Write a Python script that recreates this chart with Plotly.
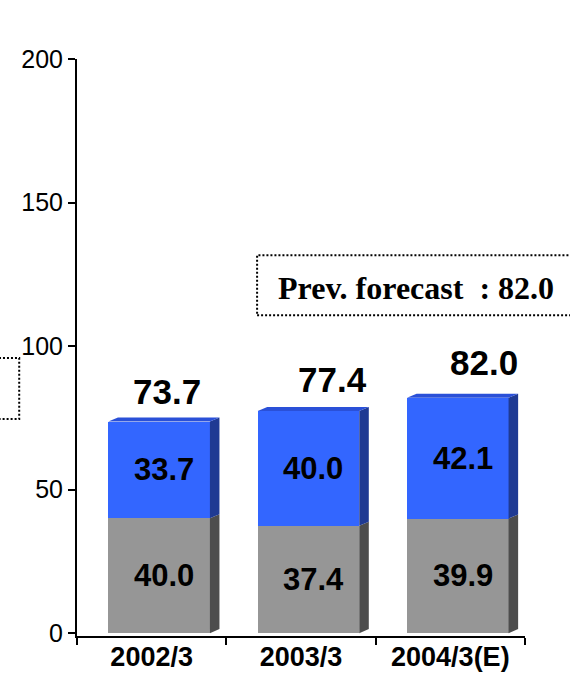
import plotly.graph_objects as go

# ---- data -------------------------------------------------------------
periods = ["2002/3", "2003/3", "2004/3(E)"]
lower_vals = [40.0, 37.4, 39.9]      # grey segment
upper_vals = [33.7, 40.0, 42.1]      # blue segment
totals = [73.7, 77.4, 82.0]
prev_forecast = 82.0
y_ticks = [0, 50, 100, 150, 200]

# ---- styling ----------------------------------------------------------
SANS = "Liberation Sans, Arial, sans-serif"
SERIF = "Liberation Serif, Times New Roman, serif"
BAR_OFFSET = -0.29      # left edge of front face relative to category centre
BAR_WIDTH = 0.68
DEPTH_X = 0.064         # 3-D depth of the boxes (x units)
DEPTH_Y = 1.4           # 3-D depth of the boxes (y units)
segments = [
    dict(vals=lower_vals, front="#969696", side="#4D4D4D", top="#7A7A7A"),
    dict(vals=upper_vals, front="#3366FF", side="#1F3A93", top="#2A50D8"),
]
# pixel nudges of the total labels above each box
TOTAL_SHIFT = [(8, 30), (24, 31), (26, 35)]

fig = go.Figure()

# front faces as stacked bars
for seg in segments:
    fig.add_trace(go.Bar(
        x=list(range(len(periods))), y=seg["vals"],
        width=BAR_WIDTH, offset=BAR_OFFSET,
        marker=dict(color=seg["front"], line=dict(width=0)),
        hoverinfo="skip", showlegend=False,
    ))

# side and top faces of each box
bases = [0.0] * len(periods)
for k, seg in enumerate(segments):
    is_top = k == len(segments) - 1
    for i, v in enumerate(seg["vals"]):
        b = bases[i]
        t = b + v
        xl = i + BAR_OFFSET
        xr = xl + BAR_WIDTH
        fig.add_trace(go.Scatter(
            x=[xr, xr + DEPTH_X, xr + DEPTH_X, xr, xr],
            y=[b, b + DEPTH_Y, t + DEPTH_Y, t, b],
            mode="lines", fill="toself", fillcolor=seg["side"],
            line=dict(width=0, color=seg["side"]),
            hoverinfo="skip", showlegend=False,
        ))
        if is_top:
            fig.add_trace(go.Scatter(
                x=[xl, xr, xr + DEPTH_X, xl + DEPTH_X, xl],
                y=[t, t, t + DEPTH_Y, t + DEPTH_Y, t],
                mode="lines", fill="toself", fillcolor=seg["top"],
                line=dict(width=0, color=seg["top"]),
                hoverinfo="skip", showlegend=False,
            ))
        # value label in the middle of the segment
        fig.add_annotation(
            x=xl + BAR_WIDTH / 2 + DEPTH_X / 2, y=b + v / 2,
            text=f"<b>{v:.1f}</b>", showarrow=False,
            xanchor="center", yanchor="middle",
            font=dict(family=SANS, size=31, color="black"),
        )
        bases[i] = t

# totals above each box
for i, tot in enumerate(totals):
    dxp, dyp = TOTAL_SHIFT[i]
    fig.add_annotation(
        x=i + BAR_OFFSET + BAR_WIDTH / 2, y=bases[i],
        text=f"<b>{tot:.1f}</b>", showarrow=False,
        xanchor="center", yanchor="middle",
        xshift=dxp, yshift=dyp,
        font=dict(family=SANS, size=35, color="black"),
    )

# previous-forecast callout (dotted frame)
fig.add_shape(type="rect", xref="paper", yref="paper",
              x0=0.402, x1=1.12, y0=0.556, y1=0.660,
              line=dict(color="black", width=2, dash="2px,2px"))
fig.add_annotation(xref="paper", yref="paper", x=0.757, y=0.603,
                   xanchor="center", yanchor="middle",
                   text=f"<b>Prev. forecast\u00a0 : {prev_forecast:.1f}</b>",
                   showarrow=False,
                   font=dict(family=SERIF, size=32, color="black"))
# partially visible dotted frame on the left edge
fig.add_shape(type="rect", xref="paper", yref="paper",
              x0=-0.30, x1=-0.129, y0=0.376, y1=0.482,
              line=dict(color="black", width=2, dash="2px,2px"))

fig.update_layout(
    width=570, height=674,
    margin=dict(l=77, r=45, t=59, b=38, autoexpand=False),
    paper_bgcolor="white", plot_bgcolor="white",
    barmode="stack", bargap=0,
    showlegend=False,
    xaxis=dict(
        range=[-0.5, len(periods) - 0.5],
        tickvals=list(range(len(periods))), ticktext=periods,
        ticks="", showgrid=False, zeroline=False, automargin=False,
        showline=True, linecolor="black", linewidth=2,
        ticklabelstandoff=-4,
        tickfont=dict(family=SANS, size=27, color="black", weight="bold"),
        minor=dict(tickvals=[i - 0.5 for i in range(len(periods) + 1)],
                   ticks="outside", ticklen=7, tickwidth=1.5,
                   tickcolor="black", showgrid=False),
    ),
    yaxis=dict(
        range=[-1, 200], tickvals=y_ticks,
        ticks="outside", ticklen=7, tickwidth=1.5, tickcolor="black",
        showgrid=False, zeroline=False, automargin=False,
        showline=True, linecolor="black", linewidth=2,
        tickfont=dict(family=SANS, size=25, color="black"),
    ),
)

fig.write_html("out.html")
